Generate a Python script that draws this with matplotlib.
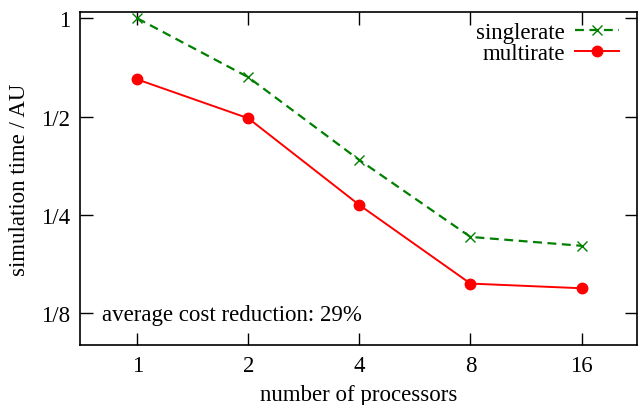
import matplotlib
matplotlib.use('Agg')
import matplotlib.pyplot as plt
from matplotlib.ticker import NullLocator

plt.rcParams['font.family'] = ['Liberation Serif', 'DejaVu Serif']

procs = [1, 2, 4, 8, 16]
singlerate = [1.0, 0.660, 0.368, 0.214, 0.201]
multirate = [0.650, 0.494, 0.268, 0.154, 0.149]
yticks = [1, 0.5, 0.25, 0.125]
ylabels = ['1', '1/2', '1/4', '1/8']

fig = plt.figure(figsize=(6.39, 4.06), dpi=100)
ax = fig.add_axes([0.125, 0.148, 0.872, 0.820])

ax.plot(procs, singlerate, color='#008000', linestyle=(0, (4, 2.5)), linewidth=1.6,
        marker='x', markersize=7, markeredgewidth=1.0, label='singlerate')
ax.plot(procs, multirate, color='#ff0000', linestyle='-', linewidth=1.4,
        marker='o', markersize=7.5, label='multirate')

ax.set_xscale('log', base=2)
ax.set_yscale('log', base=2)
ax.set_xlim(2 ** -0.516, 2 ** 4.5)
ax.set_ylim(2 ** -3.323, 2 ** 0.064)

ax.set_xticks(procs)
ax.set_xticklabels([str(p) for p in procs])
ax.set_yticks(yticks)
ax.set_yticklabels(ylabels)
ax.xaxis.set_minor_locator(NullLocator())
ax.yaxis.set_minor_locator(NullLocator())
ax.tick_params(direction='in', length=9, width=1, top=True, right=True,
               labelsize=16.5, pad=7)
for s in ax.spines.values():
    s.set_linewidth(1.2)

ax.set_xlabel('number of processors', fontsize=16.5, labelpad=6)
ax.set_ylabel('simulation time / AU', fontsize=16.5, labelpad=8)

ax.text(0.04, 0.06, 'average cost reduction: 29%', transform=ax.transAxes,
        fontsize=16.5, ha='left', va='bottom')

ax.legend(loc='upper right', frameon=False, markerfirst=False, fontsize=16.5,
          handlelength=1.9, handletextpad=0.45, labelspacing=0.0,
          borderaxespad=0.2, bbox_to_anchor=(0.992, 1.01))

fig.savefig('out.png', dpi=100)
